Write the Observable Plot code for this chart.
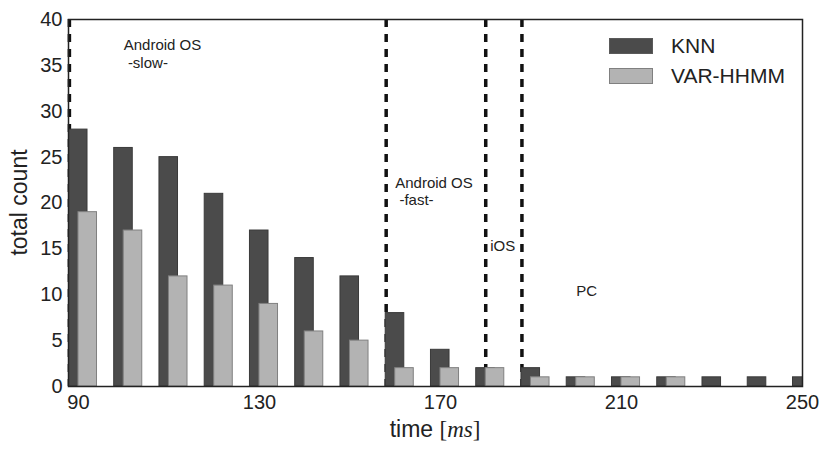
<!DOCTYPE html>
<html><head><meta charset="utf-8">
<script src="https://cdn.jsdelivr.net/npm/d3@7"></script>
<script src="https://cdn.jsdelivr.net/npm/@observablehq/plot@0.6"></script>
<style>
body{margin:0;background:#fff;}
#wrap{position:relative;width:830px;height:453px;font-family:"Liberation Sans",Arial,sans-serif;color:#222;}
.legend{position:absolute;left:609px;top:38px;}
.legend .item{display:flex;align-items:center;height:15px;margin-bottom:15px;}
.legend .sw{width:42px;height:14px;border:1px solid #777;box-sizing:content-box;margin-right:18px;}
.legend .lab{font-size:21px;line-height:15px;}
</style></head><body><div id="wrap"></div>
<script>
const times = [90,100,110,120,130,140,150,160,170,180,190,200,210,220,230,240,250];
const knn = [28,26,25,21,17,14,12,8,4,2,2,1,1,1,1,1,1];
const varhhmm = [19,17,12,11,9,6,5,2,2,2,1,1,1,1,0,0,0];
const xTicks = [90,130,170,210,250];
const yTicks = [0,5,10,15,20,25,30,35,40];
const boundaries = [88,158,180,188];
const annotations = [
  {x:100, y:38, text:"Android OS\n\u00a0-slow-"},
  {x:160, y:23, text:"Android OS\n\u00a0-fast-"},
  {x:181, y:16.1, text:"iOS"},
  {x:200, y:11.2, text:"PC"}
];
const seriesNames = ["KNN","VAR-HHMM"];
const seriesColors = ["#4b4b4b","#b3b3b3"];
const seriesStrokes = ["#3a3a3a","#808080"];

const knnRows = times.map((t,i)=>({t, v:knn[i]})).filter(d=>d.v>0);
const varRows = times.map((t,i)=>({t, v:varhhmm[i]})).filter(d=>d.v>0);

const plot = Plot.plot({
  width: 830, height: 453,
  marginLeft: 68, marginRight: 28, marginTop: 19, marginBottom: 67,
  style: {fontFamily: '"Liberation Sans", Arial, sans-serif', fontSize: "20px", color: "#222", background: "#fff"},
  x: {type: "linear", domain: [87.8, 250]},
  y: {domain: [0, 40]},
  marks: [
    Plot.ruleX(boundaries, {x: d=>d, stroke: "#111", strokeWidth: 3.5, strokeDasharray: "8,7"}),
    Plot.rect(knnRows, {x1: d=>d.t-2.1, x2: d=>d.t+2.0, y1: d=>0, y2: "v", fill: seriesColors[0], stroke: seriesStrokes[0], strokeWidth: 1, clip: true}),
    Plot.rect(varRows, {x1: d=>d.t, x2: d=>d.t+4.1, y1: d=>0, y2: "v", fill: seriesColors[1], stroke: seriesStrokes[1], strokeWidth: 1, clip: true}),
    Plot.text(annotations, {x: "x", y: "y", text: "text", textAnchor: "start", lineAnchor: "top", lineHeight: 1.17, fontSize: 15, fill: "#222"}),
    Plot.frame({stroke: "#222", strokeWidth: 1.5}),
    Plot.axisX({ticks: xTicks, tickSize: 0, tickPadding: 8, label: null, tickFormat: d=>String(d)}),
    Plot.axisY({ticks: yTicks, tickSize: 0, tickPadding: 6, label: null, tickFormat: d=>String(d)})
  ]
});

const wrap = document.getElementById("wrap");
wrap.appendChild(plot);

const svg = d3.select(plot);
const xr = plot.scale("x").range, yr = plot.scale("y").range;
const cx = (xr[0]+xr[1])/2, cy = (yr[0]+yr[1])/2;

const xl = svg.append("text").attr("x", cx).attr("y", 437).attr("text-anchor","middle")
  .attr("font-size", 23).attr("fill", "#222");
xl.append("tspan").text("time ");
xl.append("tspan").attr("font-family", '"Liberation Serif", serif').text("[");
xl.append("tspan").attr("font-family", '"Liberation Serif", serif').attr("font-style","italic").text("ms");
xl.append("tspan").attr("font-family", '"Liberation Serif", serif').text("]");

svg.append("text").attr("transform", `translate(27,${cy}) rotate(-90)`).attr("text-anchor","middle")
  .attr("font-size", 23).attr("fill", "#222").text("total count");

const legend = document.createElement("div");
legend.className = "legend";
seriesNames.forEach((n,i)=>{
  const it = document.createElement("div"); it.className = "item";
  const sw = document.createElement("div"); sw.className = "sw"; sw.style.background = seriesColors[i];
  sw.style.borderColor = i===0 ? "#5a5a5a" : "#808080";
  const lb = document.createElement("div"); lb.className = "lab"; lb.textContent = n;
  it.appendChild(sw); it.appendChild(lb); legend.appendChild(it);
});
wrap.appendChild(legend);
</script></body></html>
